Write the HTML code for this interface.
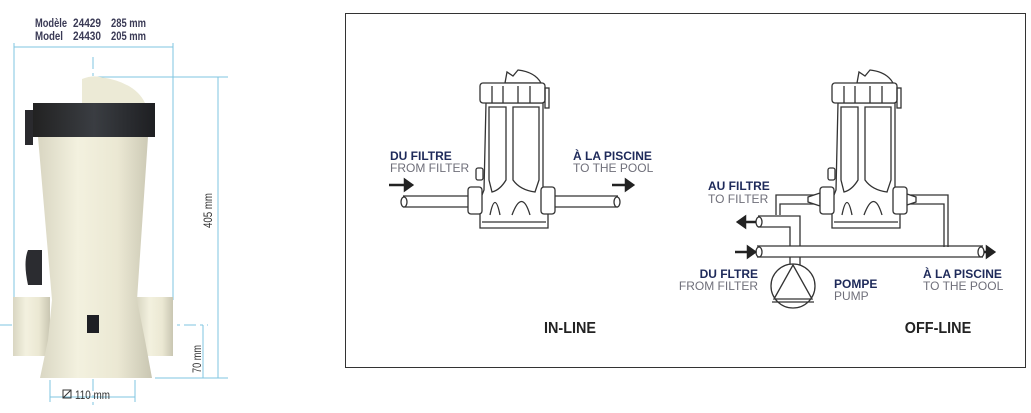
<!DOCTYPE html>
<html><head><meta charset="utf-8"><style>
html,body{margin:0;padding:0;background:#fff;width:1031px;height:413px;overflow:hidden}
svg{display:block}
text{font-family:"Liberation Sans",sans-serif}
</style></head><body>
<svg width="1031" height="413" viewBox="0 0 1031 413" xmlns="http://www.w3.org/2000/svg">
<defs>
<linearGradient id="cream" x1="0" x2="1">
<stop offset="0" stop-color="#d9d6c2"/><stop offset="0.35" stop-color="#f3f1df"/><stop offset="0.7" stop-color="#ebe8d3"/><stop offset="1" stop-color="#c9c6b2"/></linearGradient>
<linearGradient id="blk" x1="0" x2="1"><stop offset="0" stop-color="#222"/><stop offset="0.5" stop-color="#3a3d42"/><stop offset="1" stop-color="#1e1f22"/></linearGradient>
<g id="unit" fill="#fff" stroke="#333" stroke-width="1.3">
<path d="M505 83 L507 72 L513 76 L518 70 Q535 72 541 83 Z"/>
<path d="M486 103 L484 190 L480 200 L480 228 L548 228 L548 200 L543 190 L543 103 Z"/>
<path d="M489 107 L506 107 L506 180 Q500 190 492 192 L489 180 Z" fill="none"/>
<path d="M513 107 L539 107 L539 180 L535 192 Q520 190 513 180 Z" fill="none"/>
<path d="M490 215 Q495 190 500 215 M512 215 Q522 188 530 215" fill="none"/>
<line x1="482" y1="222" x2="546" y2="222"/>
<rect x="480" y="83" width="65" height="20" rx="3"/>
<path d="M492 86 V103 M503 86 V103 M518 86 V103 M530 86 V103" fill="none"/>
<rect x="545" y="88" width="4" height="20" fill="none"/>
<rect x="476" y="168" width="7" height="12" rx="2"/>
<rect x="468" y="187" width="14" height="27" rx="3"/>
<rect x="541" y="187" width="14" height="27" rx="3"/>
</g>
</defs>

<!-- LEFT PRODUCT -->
<g stroke="#7fc6e0" stroke-width="1" fill="none">
<line x1="14" y1="47" x2="173" y2="47"/><line x1="14" y1="43" x2="14" y2="300"/><line x1="173" y1="43" x2="173" y2="300"/>
<line x1="95" y1="77" x2="228" y2="77"/><line x1="218" y1="77" x2="218" y2="378"/>
<line x1="155" y1="378" x2="228" y2="378"/><line x1="203" y1="325" x2="203" y2="378"/>
<line x1="50" y1="380" x2="50" y2="402"/><line x1="135" y1="380" x2="135" y2="402"/><line x1="50" y1="397" x2="135" y2="397"/>
<line x1="93" y1="57" x2="93" y2="405" stroke-dasharray="12 4 3 4"/>
<line x1="0" y1="325" x2="208" y2="325" stroke-dasharray="12 4 3 4"/>
</g>
<g font-size="12" fill="#3a3a55" font-weight="bold">
<text x="35" y="27" textLength="32" lengthAdjust="spacingAndGlyphs">Modèle</text>
<text x="73" y="27" textLength="28" lengthAdjust="spacingAndGlyphs">24429</text>
<text x="111" y="27" textLength="35" lengthAdjust="spacingAndGlyphs">285 mm</text>
<text x="35" y="40" textLength="28" lengthAdjust="spacingAndGlyphs">Model</text>
<text x="73" y="40" textLength="28" lengthAdjust="spacingAndGlyphs">24430</text>
<text x="111" y="40" textLength="35" lengthAdjust="spacingAndGlyphs">205 mm</text>
</g>
<text x="0" y="0" font-size="12" fill="#333" transform="translate(212 228) rotate(-90)" textLength="35" lengthAdjust="spacingAndGlyphs">405 mm</text>
<text x="0" y="0" font-size="12" fill="#333" transform="translate(201 373) rotate(-90)" textLength="28" lengthAdjust="spacingAndGlyphs">70 mm</text>
<rect x="63" y="390" width="8" height="8" fill="none" stroke="#333" stroke-width="1"/><line x1="63" y1="398" x2="71" y2="390" stroke="#333"/>
<text x="75" y="399" font-size="12" fill="#333" textLength="35" lengthAdjust="spacingAndGlyphs">110 mm</text>

<path d="M13 297 L50 297 L50 356 L13 356 Z" fill="url(#cream)"/>
<path d="M137 297 L173 297 L173 356 L137 356 Z" fill="url(#cream)"/>
<path d="M38 137 L148 137 L137 300 L145 340 L152 378 L40 378 L48 340 L52 300 Z" fill="url(#cream)"/>
<path d="M82 103 L82 79 Q92 75 100 77 Q135 82 145 103 Z" fill="#ecead6"/>
<rect x="33" y="103" width="122" height="34" fill="url(#blk)"/>
<rect x="25" y="110" width="8" height="35" fill="#2a2a2e"/>
<path d="M28 250 Q23 262 28 285 L42 285 L42 250 Z" fill="#2b2c30"/>
<rect x="87" y="315" width="12" height="18" fill="#1e1f24"/>

<!-- FRAME -->
<rect x="345.5" y="13.5" width="680" height="354" fill="none" stroke="#333" stroke-width="1"/>

<!-- IN-LINE -->
<g fill="#fff" stroke="#333" stroke-width="1.3">
<path d="M403 196 H468 M403 207 H468 M555 196 H618 M555 207 H618"/>
<ellipse cx="404" cy="202" rx="3" ry="5"/><ellipse cx="617" cy="202" rx="3" ry="5"/>
</g>
<use href="#unit"/>
<path d="M389 185 H405 M405 180 L412 185 L405 190 Z" stroke="#222" stroke-width="2.5" fill="#222"/>
<path d="M612 185 H626 M626 180 L633 185 L626 190 Z" stroke="#222" stroke-width="2.5" fill="#222"/>
<text x="390" y="160" font-size="12" font-weight="bold" fill="#1e2a5a">DU FILTRE</text>
<text x="390" y="172" font-size="12" fill="#6f6f7a">FROM FILTER</text>
<text x="573" y="160" font-size="12" font-weight="bold" fill="#1e2a5a">À LA PISCINE</text>
<text x="573" y="172" font-size="12" fill="#6f6f7a">TO THE POOL</text>
<text x="570" y="333" font-size="16" font-weight="bold" fill="#222" text-anchor="middle" transform="scale(0.9 1)" style="transform-origin:570px 333px">IN-LINE</text>

<!-- OFF-LINE -->
<g fill="none" stroke="#333" stroke-width="1.3">
<path d="M820 195 H776 V215 M820 204 H780 V215"/>
<path d="M904 195 H948 V247 M904 204 H944 V247"/>
<path d="M758 216 H800 V246 M758 227 H790 V246"/>
<path d="M757 246 H983 M757 257 H983"/>
<path d="M790 257 V265 M800 257 V265"/>
<ellipse cx="759" cy="222" rx="3" ry="5"/><ellipse cx="759" cy="252" rx="3" ry="5"/><ellipse cx="981" cy="252" rx="3" ry="5"/>
<circle cx="793" cy="286" r="22" fill="#fff"/>
<path d="M793 265 L774 299 L812 299 Z"/><line x1="772" y1="302" x2="814" y2="302"/>
<path d="M808 197 L820 193 V206 L808 202 Z M916 197 L904 193 V206 L916 202 Z" fill="#fff"/>
</g>
<use href="#unit" transform="translate(352 0)"/>
<path d="M756 222 H745 M745 217 L738 222 L745 227 Z" stroke="#222" stroke-width="2.5" fill="#222"/>
<path d="M735 252 H748 M748 247 L755 252 L748 257 Z" stroke="#222" stroke-width="2.5" fill="#222"/>
<path d="M984 252 H987 M987 247 L994 252 L987 257 Z" stroke="#222" stroke-width="2.5" fill="#222"/>
<text x="708" y="190" font-size="12" font-weight="bold" fill="#1e2a5a">AU FILTRE</text>
<text x="708" y="203" font-size="12" fill="#6f6f7a">TO FILTER</text>
<text x="758" y="278" font-size="12" font-weight="bold" fill="#1e2a5a" text-anchor="end">DU FLTRE</text>
<text x="758" y="290" font-size="12" fill="#6f6f7a" text-anchor="end">FROM FILTER</text>
<text x="834" y="288" font-size="12" font-weight="bold" fill="#1e2a5a">POMPE</text>
<text x="834" y="300" font-size="12" fill="#6f6f7a">PUMP</text>
<text x="923" y="278" font-size="12" font-weight="bold" fill="#1e2a5a">À LA PISCINE</text>
<text x="923" y="290" font-size="12" fill="#6f6f7a">TO THE POOL</text>
<text x="938" y="333" font-size="16" font-weight="bold" fill="#222" text-anchor="middle" transform="scale(0.9 1)" style="transform-origin:938px 333px">OFF-LINE</text>
</svg>
</body></html>
